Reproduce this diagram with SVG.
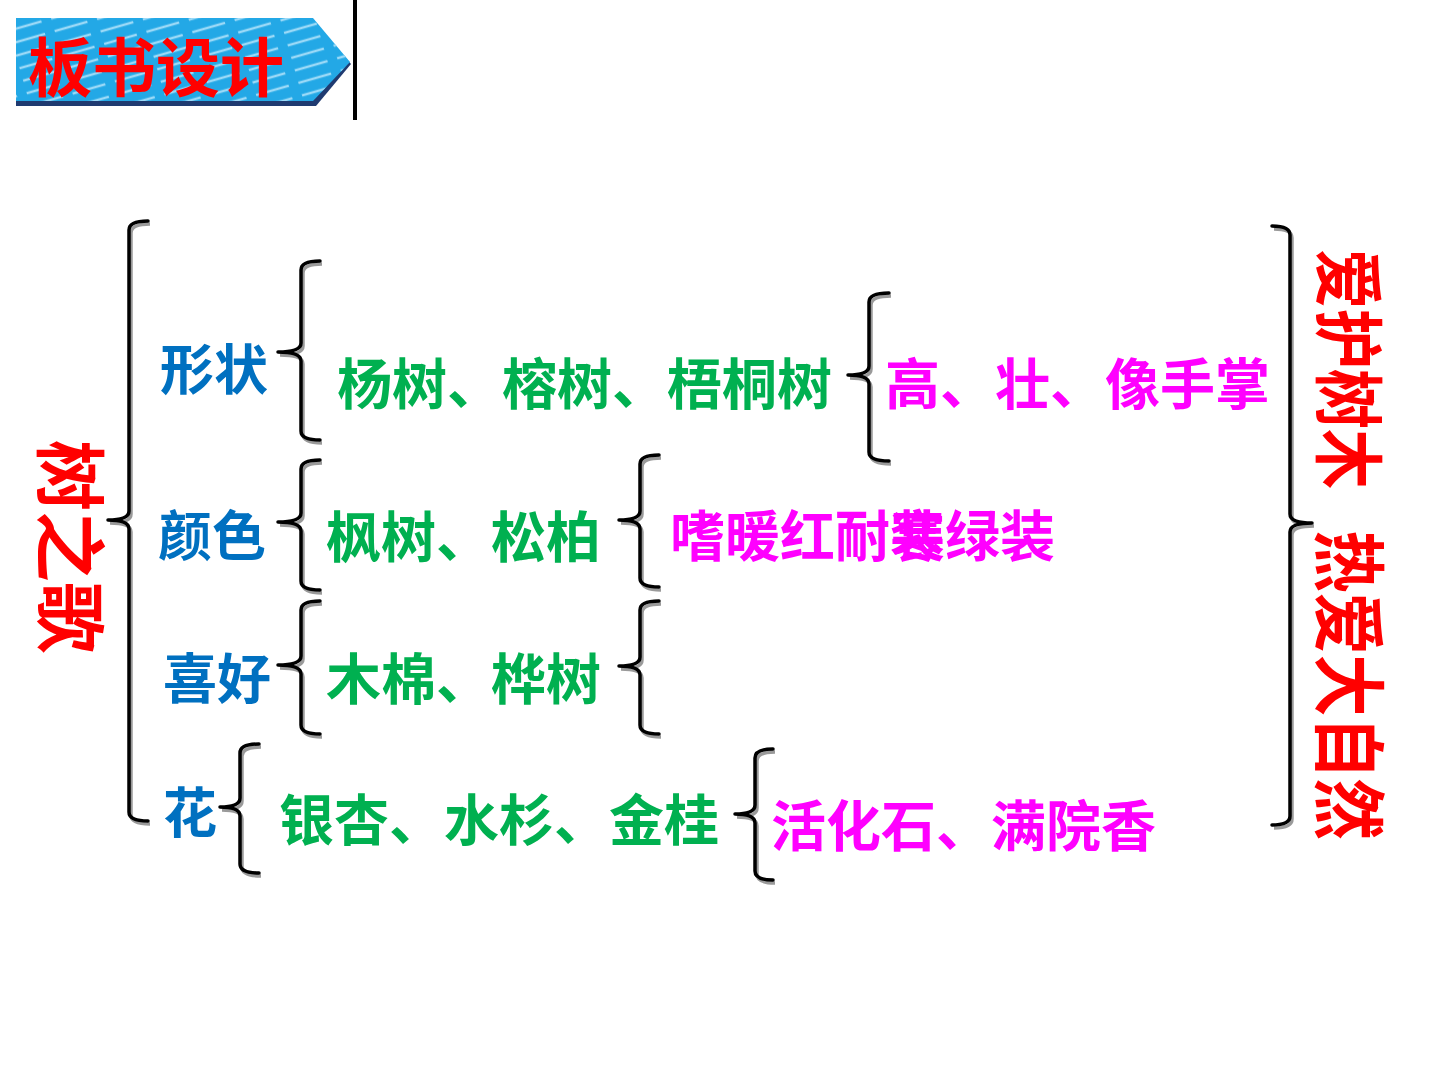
<svg xmlns="http://www.w3.org/2000/svg" xmlns:xlink="http://www.w3.org/1999/xlink" width="1440" height="1080" viewBox="0 0 1440 1080">
<style>
  text { font-family: "Noto Sans CJK SC", "Noto Sans", sans-serif; font-weight: bold; }
  .title { fill: #FF0000; font-size: 64px; }
  .vert { fill: #FF0000; }
  .blue { fill: #0070C0; font-size: 54px; }
  .green { fill: #00B050; font-size: 55px; }
  .mag { fill: #FF00FF; font-size: 55px; }
  .shadow { fill: none; stroke: #9a9a9a; stroke-width: 3.5; }
  .brace { fill: none; stroke: #000000; stroke-width: 3.5; stroke-linecap: round; stroke-linejoin: round; }
</style>
<defs>
  <pattern id="stripes" width="44" height="13" patternUnits="userSpaceOnUse" patternTransform="rotate(-16)">
    <line x1="0" y1="6" x2="34" y2="6" stroke="#9ad9f7" stroke-width="2.5"/>
  </pattern>
  <clipPath id="bannerClip">
    <polygon points="16,18 313,18 350,62 313,101 16,101"/>
  </clipPath>
</defs>

<g id="banner">
  <polygon points="16,21 313,21 351,64 316,106 16,106" fill="#1F3A70"/>
  <polygon points="16,18 313,18 350,62 313,101 16,101" fill="#23A8E6"/>
  <rect x="16" y="18" width="340" height="84" fill="url(#stripes)" clip-path="url(#bannerClip)"/>
  <text class="title" x="28" y="91">板书设计</text>
  <rect x="353" y="0" width="4" height="120" fill="#000000"/>
</g>

<g id="connectors">
  <!-- main left brace -->
  <path class="shadow" transform="translate(2,3)" d="M148,221 Q129,221 129,230 L129,511 Q129,520 108,520 Q129,520 129,529 L129,812 Q129,821 148,821"/>
  <path class="brace" d="M148,221 Q129,221 129,230 L129,511 Q129,520 108,520 Q129,520 129,529 L129,812 Q129,821 148,821"/>
  <!-- 形状 brace -->
  <path class="shadow" transform="translate(2,3)" d="M320,261 Q301,261 301,270 L301,343 Q301,352 278,352 Q301,352 301,361 L301,431 Q301,440 320,440"/>
  <path class="brace" d="M320,261 Q301,261 301,270 L301,343 Q301,352 278,352 Q301,352 301,361 L301,431 Q301,440 320,440"/>
  <!-- 颜色 brace -->
  <path class="shadow" transform="translate(2,3)" d="M320,460 Q301,460 301,469 L301,513 Q301,522 278,522 Q301,522 301,531 L301,581 Q301,590 320,590"/>
  <path class="brace" d="M320,460 Q301,460 301,469 L301,513 Q301,522 278,522 Q301,522 301,531 L301,581 Q301,590 320,590"/>
  <!-- 喜好 brace -->
  <path class="shadow" transform="translate(2,3)" d="M320,601 Q301,601 301,610 L301,656 Q301,665 278,665 Q301,665 301,674 L301,725 Q301,734 320,734"/>
  <path class="brace" d="M320,601 Q301,601 301,610 L301,656 Q301,665 278,665 Q301,665 301,674 L301,725 Q301,734 320,734"/>
  <!-- 花 brace -->
  <path class="shadow" transform="translate(2,3)" d="M259,744 Q240,744 240,753 L240,798 Q240,807 220,807 Q240,807 240,816 L240,864 Q240,873 259,873"/>
  <path class="brace" d="M259,744 Q240,744 240,753 L240,798 Q240,807 220,807 Q240,807 240,816 L240,864 Q240,873 259,873"/>
  <!-- 杨树 → 高 brace -->
  <path class="shadow" transform="translate(2,3)" d="M889,293 Q869,293 869,302 L869,366 Q869,375 848,375 Q869,375 869,384 L869,452 Q869,461 889,461"/>
  <path class="brace" d="M889,293 Q869,293 869,302 L869,366 Q869,375 848,375 Q869,375 869,384 L869,452 Q869,461 889,461"/>
  <!-- 枫树 → brace -->
  <path class="shadow" transform="translate(2,3)" d="M659,455 Q640,455 640,464 L640,511 Q640,520 619,520 Q640,520 640,529 L640,578 Q640,587 659,587"/>
  <path class="brace" d="M659,455 Q640,455 640,464 L640,511 Q640,520 619,520 Q640,520 640,529 L640,578 Q640,587 659,587"/>
  <!-- 木棉 → brace -->
  <path class="shadow" transform="translate(2,3)" d="M659,601 Q640,601 640,610 L640,657 Q640,666 619,666 Q640,666 640,675 L640,725 Q640,734 659,734"/>
  <path class="brace" d="M659,601 Q640,601 640,610 L640,657 Q640,666 619,666 Q640,666 640,675 L640,725 Q640,734 659,734"/>
  <!-- 银杏 → 活化石 brace -->
  <path class="shadow" transform="translate(2,3)" d="M773,749 Q755,749 755,758 L755,805 Q755,814 735,814 Q755,814 755,823 L755,871 Q755,880 773,880"/>
  <path class="brace" d="M773,749 Q755,749 755,758 L755,805 Q755,814 735,814 Q755,814 755,823 L755,871 Q755,880 773,880"/>
  <!-- right closing brace -->
  <path class="shadow" transform="translate(2,3)" d="M1272,226 Q1290,226 1290,235 L1290,514 Q1290,523 1312,523 Q1290,523 1290,532 L1290,816 Q1290,825 1272,825"/>
  <path class="brace" d="M1272,226 Q1290,226 1290,235 L1290,514 Q1290,523 1312,523 Q1290,523 1290,532 L1290,816 Q1290,825 1272,825"/>
</g>

<g id="node-root">
  <text class="vert" font-size="71" transform="translate(44,440) rotate(90)">树之歌</text>
</g>
<g id="node-shape"><text class="blue" x="160" y="390">形状</text></g>
<g id="node-color"><text class="blue" x="158" y="556">颜色</text></g>
<g id="node-like"><text class="blue" x="163" y="699">喜好</text></g>
<g id="node-flower"><text class="blue" x="163" y="833">花</text></g>

<g id="node-trees1"><text class="green" x="337" y="404">杨树、榕树、梧桐树</text></g>
<g id="node-trees2"><text class="green" x="326" y="557">枫树、松柏</text></g>
<g id="node-trees3"><text class="green" x="326" y="699">木棉、桦树</text></g>
<g id="node-trees4"><text class="green" x="279" y="840">银杏、水杉、金桂</text></g>

<g id="node-feat1"><text class="mag" x="885" y="404">高、壮、像手掌</text></g>
<g id="node-feat2">
  <text class="mag" x="670" y="556">嗜暖红耐寒绿装</text>
  <text class="mag" x="890" y="556">装</text>
</g>
<g id="node-feat4"><text class="mag" x="771" y="846">活化石、满院香</text></g>

<g id="node-theme">
  <text class="vert" font-size="60" transform="translate(1322,249) rotate(90) scale(1,1.18)">爱护树木 <tspan dx="28" font-size="62">热爱大自然</tspan></text>
</g>
</svg>
